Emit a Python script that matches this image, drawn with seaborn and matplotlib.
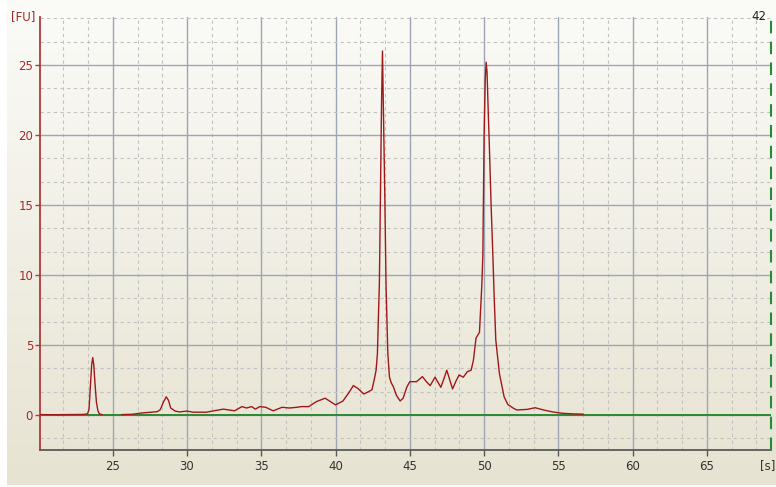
import numpy as np
import pandas as pd
import matplotlib
matplotlib.use("Agg")
import matplotlib.pyplot as plt
from matplotlib.ticker import MultipleLocator, FixedLocator
from matplotlib.transforms import offset_copy
import seaborn as sns

# trace values (time in s, fluorescence in FU)
marker_time = [20.15, 21.0, 22.0, 23.0, 23.3, 23.4, 23.5, 23.58, 23.65, 23.72,
               23.8, 23.9, 24.0, 24.1, 24.3]
marker_fu = [0.03, 0.02, 0.03, 0.04, 0.08, 0.4, 2.2, 3.6, 4.1, 3.6,
             2.3, 0.9, 0.3, 0.08, 0.02]

sample_time = [25.6, 26.3, 27.0, 27.6, 28.0, 28.2, 28.4, 28.6, 28.75, 28.9,
               29.2, 29.5, 30.0, 30.4, 31.3, 31.8, 32.45, 33.2, 33.7, 34.0,
               34.35, 34.6, 34.9, 35.3, 35.8, 36.4, 36.9, 37.4, 37.7, 38.2,
               38.7, 39.3, 40.0, 40.5, 40.9, 41.2, 41.5, 41.9, 42.1, 42.45,
               42.6, 42.73, 42.82, 42.88, 42.95, 43.02, 43.1, 43.16, 43.22, 43.32,
               43.4, 43.52, 43.63, 43.75, 43.9, 44.1, 44.35, 44.55, 44.8, 45.0,
               45.45, 45.85, 46.1, 46.37, 46.7, 47.09, 47.3, 47.49, 47.88, 48.1,
               48.32, 48.6, 48.88, 49.13, 49.28, 49.46, 49.69, 49.85, 49.92, 50.0,
               50.08, 50.14, 50.2, 50.3, 50.34, 50.47, 50.59, 50.68, 50.79, 51.03,
               51.35, 51.6, 51.98, 52.2, 52.9, 53.44, 54.0, 54.67, 55.3, 56.0,
               56.7]
sample_fu = [0.03, 0.05, 0.15, 0.2, 0.24, 0.38, 0.9, 1.3, 1.05, 0.5,
             0.28, 0.22, 0.28, 0.2, 0.2, 0.3, 0.42, 0.3, 0.6, 0.5,
             0.6, 0.42, 0.6, 0.55, 0.3, 0.55, 0.5, 0.55, 0.6, 0.6,
             0.95, 1.2, 0.72, 1.0, 1.6, 2.1, 1.9, 1.5, 1.6, 1.8,
             2.5, 3.2, 4.4, 6.8, 9.3, 15.4, 22.5, 26.0, 22.0, 15.4,
             9.2, 4.4, 2.7, 2.3, 2.0, 1.4, 1.0, 1.2, 2.0, 2.38,
             2.38, 2.74, 2.4, 2.1, 2.7, 1.98, 2.6, 3.2, 1.86, 2.4,
             2.86, 2.7, 3.1, 3.2, 3.9, 5.5, 5.9, 9.3, 11.5, 19.8,
             24.0, 25.2, 24.5, 21.0, 19.8, 15.1, 11.5, 8.45, 5.36, 2.98,
             1.3, 0.75, 0.48, 0.36, 0.4, 0.52, 0.36, 0.21, 0.12, 0.08,
             0.06]

x_ticks = [25, 30, 35, 40, 45, 50, 55, 60, 65]
y_ticks = [0, 5, 10, 15, 20, 25]
x_range = (20.1, 69.3)
y_range = (-2.5, 28.45)
upper_marker = "42"

RED = "#a01818"
GREEN = "#2a8a34"

sns.set_style("white")
plt.rcParams["font.family"] = ["DejaVu Sans"]

trace = pd.concat([
    pd.DataFrame({"time": marker_time, "fu": marker_fu, "segment": 0}),
    pd.DataFrame({"time": sample_time, "fu": sample_fu, "segment": 1}),
], ignore_index=True)

fig = plt.figure(figsize=(7.76, 4.87), dpi=100)
fig.patch.set_facecolor("white")

# soft vertical gradient behind everything
bg = fig.add_axes([7 / 776, 2 / 487, 1 - 7 / 776, 1 - 2 / 487], zorder=0)
top_c = np.array([251, 251, 248]) / 255
bot_c = np.array([231, 227, 210]) / 255
t = np.linspace(0, 1, 256)[:, None]
grad = (top_c * (1 - t) + bot_c * t)[:, None, :]
bg.imshow(grad, aspect="auto", extent=(0, 1, 0, 1))
bg.axis("off")

ax = fig.add_axes([40 / 776, 37 / 487, 730.7 / 776, 433.3 / 487], zorder=1)
ax.set_facecolor("none")

ax.set_xlim(*x_range)
ax.set_ylim(*y_range)
ax.xaxis.set_major_locator(FixedLocator(x_ticks))
ax.yaxis.set_major_locator(FixedLocator(y_ticks))
ax.xaxis.set_minor_locator(MultipleLocator(5 / 3))
ax.yaxis.set_minor_locator(MultipleLocator(5 / 3))

ax.grid(which="minor", color="#c2c2c2", linestyle=(0, (3, 3)), linewidth=0.8)
ax.grid(which="major", color="#9ea6b6", linestyle="-", linewidth=1.0)
ax.set_axisbelow(True)

ax.axhline(0, color=GREEN, lw=1.4, zorder=2)
sns.lineplot(data=trace, x="time", y="fu", units="segment", estimator=None,
             sort=False, color=RED, lw=1.0, ax=ax, legend=False, zorder=3)
ax.axvline(x_range[1], color=GREEN, lw=1.5, linestyle=(0, (6, 4)),
           clip_on=False, zorder=4)

for side in ["top", "right"]:
    ax.spines[side].set_visible(False)
ax.spines["left"].set_color("#b03a3a")
ax.spines["left"].set_linewidth(1.3)
ax.spines["bottom"].set_color("#5a5a5a")
ax.spines["bottom"].set_linewidth(1.3)

ax.tick_params(axis="y", which="major", length=3.5, width=1, color="#b03a3a",
               labelcolor="#a52a2a", labelsize=8.5, pad=1.5, left=True)
ax.tick_params(axis="x", which="major", length=4, width=1, color="#5a5a5a",
               labelcolor="#333333", labelsize=8.5, pad=3, bottom=True)
ax.tick_params(which="minor", length=0)
ax.set_xlabel("")
ax.set_ylabel("")

ax.text(0, 1, "[FU]", transform=offset_copy(ax.transAxes, fig, x=-3, y=0, units="points"),
        ha="right", va="center", color="#a52a2a", fontsize=8.5)
ax.text(1, 0, "[s]", transform=offset_copy(ax.transAxes, fig, x=-2, y=-11, units="points"),
        ha="center", va="center", color="#333333", fontsize=8.5)
ax.text(1, 1, upper_marker, transform=offset_copy(ax.transAxes, fig, x=-3, y=0, units="points"),
        ha="right", va="center", color="#222222", fontsize=8.5)

fig.savefig("out.png", dpi=100)
